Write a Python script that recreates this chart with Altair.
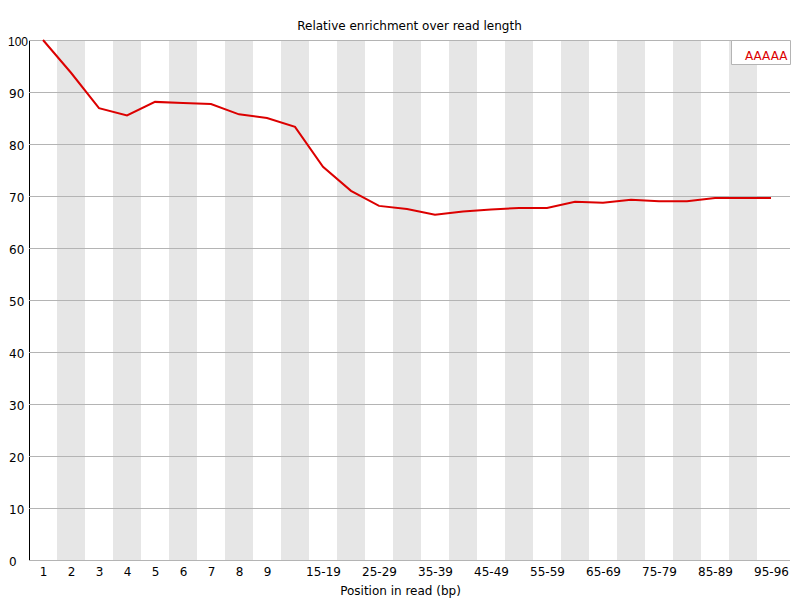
import altair as alt
import pandas as pd

categories = ['1', '2', '3', '4', '5', '6', '7', '8', '9',
              '10-14', '15-19', '20-24', '25-29', '30-34', '35-39', '40-44',
              '45-49', '50-54', '55-59', '60-64', '65-69', '70-74', '75-79',
              '80-84', '85-89', '90-94', '95-96']
values = [100, 93.7, 86.9, 85.5, 88.1, 87.9, 87.7, 85.7, 85.0, 83.3, 75.6,
          71.0, 68.1, 67.5, 66.4, 67.0, 67.4, 67.7, 67.7, 68.9, 68.7, 69.3,
          69.0, 69.0, 69.6, 69.6, 69.6]
series_name = 'AAAAA'
y_ticks = [0, 10, 20, 30, 40, 50, 60, 70, 80, 90, 100]
shown_label_idx = [0, 1, 2, 3, 4, 5, 6, 7, 8, 10, 12, 14, 16, 18, 20, 22, 24, 26]

FONT = 'DejaVu Sans'
RED = '#dc0000'
GRID = '#b4b4b4'
STRIPE = '#e6e6e6'

PLOT_W = 761
BAND_PX = 28
XMAX = PLOT_W / BAND_PX

n = len(categories)
line_df = pd.DataFrame({
    'pos': [i + 0.5 for i in range(n)],
    'value': values,
    'series': [series_name] * n,
})
odd = [i for i in range(n) if i % 2 == 1]
stripe_df = pd.DataFrame({
    'x0': odd,
    'x1': [i + 1 for i in odd],
    'y0': [0] * len(odd),
    'y1': [100] * len(odd),
})
grid_df = pd.DataFrame({'v': y_ticks})

x_scale = alt.Scale(domain=[0, XMAX], nice=False, zero=False)
y_scale = alt.Scale(domain=[0, 100], nice=False)

label_arr = '[' + ','.join("'" + c + "'" for c in categories) + ']'
is100 = 'datum.value == 100'

x_axis = alt.Axis(
    values=[i + 0.5 for i in shown_label_idx],
    labelExpr=label_arr + '[floor(datum.value)]',
    grid=False, domain=False, ticks=False, tickSize=0,
    labelFont=FONT, labelFontSize=12, labelColor='black',
    labelPadding=6.5, labelOverlap=False, labelFlush=False, labelBound=False,
    title='Position in read (bp)', titleFont=FONT, titleFontSize=12,
    titleFontWeight='normal', titleColor='black',
    titleX=371, titleY=34.5, titleBaseline='alphabetic', titleAnchor='start',
    titleAlign='center',
)
y_axis = alt.Axis(
    values=y_ticks, grid=False, ticks=False, tickSize=0,
    domain=True, domainColor='black', domainWidth=1,
    labelFont={'condition': {'test': is100, 'value': 'Liberation Sans'}, 'value': FONT},
    labelFontSize=12, labelColor='black',
    labelAlign={'condition': {'test': is100, 'value': 'right'}, 'value': 'left'},
    labelPadding={'condition': {'test': is100, 'value': 1.5}, 'value': 20.5},
    labelOffset=1, labelOverlap=False, labelFlush=False, labelBound=False,
    title=None,
)

stripes = alt.Chart(stripe_df).mark_rect(color=STRIPE).encode(
    x=alt.X('x0:Q', scale=x_scale, axis=x_axis),
    x2='x1:Q',
    y=alt.Y('y0:Q', scale=y_scale, axis=y_axis),
    y2='y1:Q',
)

grid = alt.Chart(grid_df).mark_rule(color=GRID, strokeWidth=1, yOffset=0.5).encode(
    y=alt.Y('v:Q', scale=y_scale),
)

line = alt.Chart(line_df).mark_line(strokeWidth=2).encode(
    x=alt.X('pos:Q', scale=x_scale),
    y=alt.Y('value:Q', scale=y_scale),
    color=alt.Color('series:N',
                    scale=alt.Scale(domain=[series_name], range=[RED]),
                    legend=alt.Legend(
                        title=' ', titleFontSize=6, titlePadding=2,
                        orient='top-right', offset=0,
                        padding=2, strokeColor=GRID, fillColor='white',
                        labelColor=RED, labelFont=FONT, labelFontSize=12,
                        labelOffset=0, symbolType='circle', symbolSize=1,
                        symbolStrokeWidth=0, symbolOpacity=0, cornerRadius=0,
                    )),
)

chart = alt.layer(stripes, grid, line).properties(
    width=PLOT_W,
    height=520,
    title=alt.TitleParams(
        'Relative enrichment over read length', font=FONT, fontSize=12,
        fontWeight='normal', color='black', anchor='middle', frame='group',
        baseline='alphabetic', offset=11, dy=18,
    ),
    autosize=alt.AutoSizeParams(type='none'),
    padding={'left': 21, 'top': 32, 'right': 2, 'bottom': 44},
    background='white',
).configure_view(stroke=None).configure_legend(
    symbolSize=1, symbolStrokeWidth=0, symbolType='circle', labelOffset=0,
)

chart.save('out.html', embed_options={'renderer': 'svg', 'actions': False})
